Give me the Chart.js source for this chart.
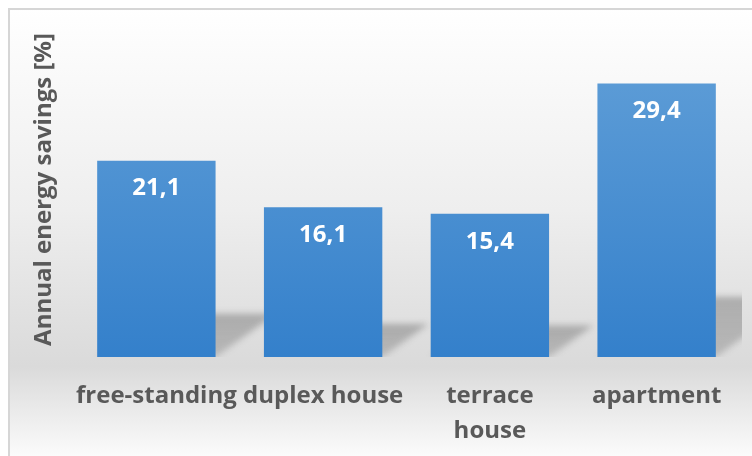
<!DOCTYPE html>
<html>
<head>
<meta charset="utf-8">
<script src="https://cdn.jsdelivr.net/npm/chart.js@4/dist/chart.umd.min.js"></script>
<style>
  html, body { margin: 0; padding: 0; background: #fff; }
  #wrap { width: 752px; height: 456px; }
</style>
</head>
<body>
<div id="wrap"><canvas id="chart" width="752" height="456"></canvas></div>
<script>
// valores
const categories = ['free-standing', 'duplex house', ['terrace', 'house'], 'apartment'];
const savings = [21.1, 16.1, 15.4, 29.4];
const yTitle = 'Annual energy savings [%]';

const FONT = '"Open Sans", sans-serif';
const GREY = '#595959';

// fondo con degradado y borde del cuadro
const backgroundPlugin = {
  id: 'background',
  beforeDraw(chart) {
    const ctx = chart.ctx;
    const w = chart.width, h = chart.height;
    const g = ctx.createLinearGradient(0, 8, 0, h);
    g.addColorStop(0, '#ffffff');
    g.addColorStop(0.45, '#eeeeee');
    g.addColorStop(0.8, '#dadada');
    g.addColorStop(1, '#fbfbfb');
    ctx.save();
    ctx.fillStyle = g;
    ctx.fillRect(9, 9, w - 9, h - 9);
    ctx.strokeStyle = '#d6d6d6';
    ctx.lineWidth = 2;
    ctx.beginPath();
    ctx.moveTo(9, h);
    ctx.lineTo(9, 9);
    ctx.lineTo(w, 9);
    ctx.stroke();
    ctx.restore();
  }
};

// sombra en perspectiva detrás de cada barra (proporcional a su altura)
const shadowPlugin = {
  id: 'barShadow',
  beforeDatasetsDraw(chart) {
    const ctx = chart.ctx;
    const area = chart.chartArea;
    const meta = chart.getDatasetMeta(0);
    ctx.save();
    ctx.beginPath();
    ctx.rect(area.left, area.top, area.right - area.left + 2, area.bottom - area.top);
    ctx.clip();
    ctx.filter = 'blur(3px)';
    meta.data.forEach(bar => {
      const left = bar.x - bar.width / 2;
      const right = bar.x + bar.width / 2;
      const bottom = bar.base;
      const sh = (bottom - bar.y) * 0.22;
      const dx = sh * 1.4;
      const g = ctx.createLinearGradient(0, bottom, 0, bottom - sh);
      g.addColorStop(0, 'rgba(60,60,60,0.22)');
      g.addColorStop(1, 'rgba(60,60,60,0.32)');
      ctx.fillStyle = g;
      ctx.beginPath();
      ctx.moveTo(left, bottom);
      ctx.lineTo(right, bottom);
      ctx.lineTo(right + dx, bottom - sh);
      ctx.lineTo(left + dx, bottom - sh);
      ctx.closePath();
      ctx.fill();
    });
    ctx.restore();
  }
};

// etiquetas de valor dentro de las barras
const valueLabels = {
  id: 'valueLabels',
  afterDatasetsDraw(chart) {
    const ctx = chart.ctx;
    const meta = chart.getDatasetMeta(0);
    ctx.save();
    ctx.fillStyle = '#ffffff';
    ctx.font = 'bold 24px ' + FONT;
    ctx.textAlign = 'center';
    ctx.textBaseline = 'middle';
    meta.data.forEach((bar, i) => {
      const txt = savings[i].toFixed(1).replace('.', ',');
      ctx.fillText(txt, bar.x, bar.y + 28);
    });
    ctx.restore();
  }
};

const ctx = document.getElementById('chart').getContext('2d');
new Chart(ctx, {
  type: 'bar',
  data: {
    labels: categories,
    datasets: [{
      data: savings,
      backgroundColor: (c) => {
        const area = c.chart.chartArea;
        if (!area) return '#4a8fd3';
        const g = c.chart.ctx.createLinearGradient(0, area.top + 60, 0, area.bottom);
        g.addColorStop(0, '#5b9bd6');
        g.addColorStop(1, '#3480cb');
        return g;
      },
      borderWidth: 0,
      barPercentage: 0.71,
      categoryPercentage: 1
    }]
  },
  options: {
    responsive: false,
    animation: false,
    layout: { padding: { top: 22, right: 12, left: 30, bottom: 9 } },
    plugins: {
      legend: { display: false },
      tooltip: { enabled: false }
    },
    scales: {
      x: {
        grid: { display: false },
        border: { display: false },
        afterFit(scale) { scale.height = 90; },
        ticks: {
          color: GREY,
          font: { family: FONT, size: 24, weight: 'bold', lineHeight: 1.45 },
          padding: 14,
          maxRotation: 0,
          autoSkip: false
        }
      },
      y: {
        min: 0,
        max: 36,
        grid: { display: false },
        border: { display: false },
        ticks: { display: false },
        afterFit(scale) { scale.width = 43; },
        title: {
          display: true,
          text: yTitle,
          color: GREY,
          font: { family: FONT, size: 24, weight: 'bold' },
          padding: { top: 0, bottom: 0 }
        }
      }
    }
  },
  plugins: [backgroundPlugin, shadowPlugin, valueLabels]
});
</script>
</body>
</html>
